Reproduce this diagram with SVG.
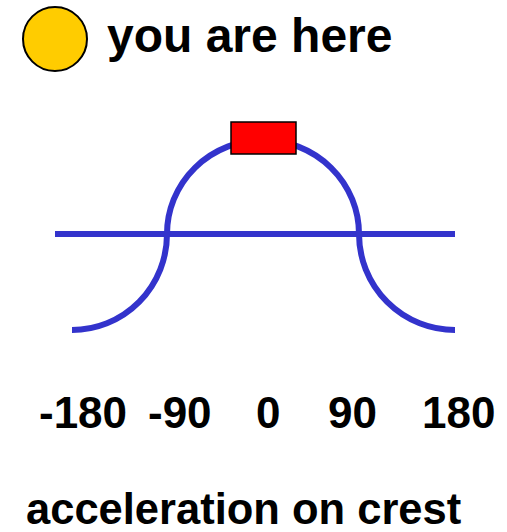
<svg xmlns="http://www.w3.org/2000/svg" width="507" height="532" viewBox="0 0 507 532">
<style>
.t{font-family:"Liberation Sans",Arial,sans-serif;font-weight:bold;fill:#000}
.n{font-size:44px}
.wave{fill:none;stroke:#3333CC;stroke-width:6}
</style>
<rect width="507" height="532" fill="#fff"/>
<g id="legend">
<circle cx="55" cy="39" r="32" fill="#FFCC00" stroke="#000" stroke-width="2"/>
<text class="t" x="107" y="52" font-size="48">you are here</text>
</g>
<g id="connectors">
<line class="wave" x1="55" y1="234" x2="455" y2="234"/>
<path class="wave" d="M72,330 A95,96 0 0 0 167,234 A96,94 0 0 1 359,234 A96,96 0 0 0 455,330"/>
</g>
<g id="bunch">
<rect x="231" y="122" width="65" height="32" fill="#FF0000" stroke="#000" stroke-width="1.5"/>
</g>
<g id="axis-labels">
<text class="t n" x="39" y="428">-180</text>
<text class="t n" x="148" y="428">-90</text>
<text class="t n" x="256" y="428">0</text>
<text class="t n" x="328" y="428">90</text>
<text class="t n" x="422" y="428">180</text>
</g>
<g id="caption">
<text class="t" x="26" y="524" font-size="43.5">acceleration on crest</text>
</g>
</svg>
